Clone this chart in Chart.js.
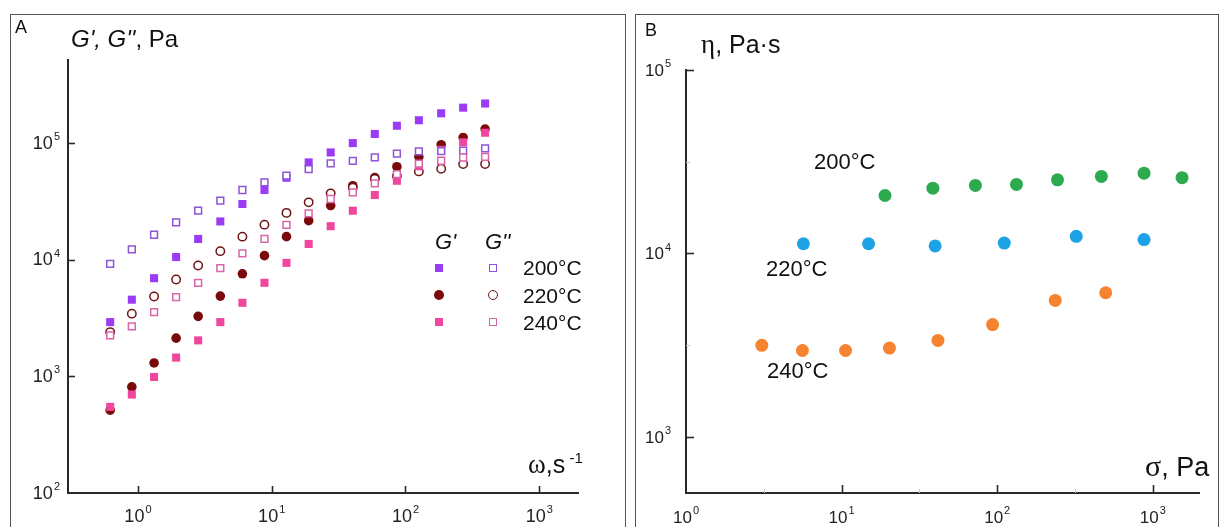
<!DOCTYPE html>
<html><head><meta charset="utf-8">
<script src="https://cdn.jsdelivr.net/npm/chart.js@4/dist/chart.umd.min.js"></script>
<style>
html,body{margin:0;padding:0;background:#fff;}
#page{position:relative;width:1220px;height:527px;overflow:hidden;font-family:"Liberation Sans",Arial,sans-serif;color:#111;}
.frame{position:absolute;border:1px solid #555;}
.t{position:absolute;line-height:1;white-space:nowrap;}
.serif{font-family:"Liberation Serif","DejaVu Serif",serif;}
.it{font-style:italic;}
canvas{position:absolute;top:0;}
.mk{position:absolute;box-sizing:border-box;}
</style></head>
<body>
<div id="page">
  <div class="frame" style="left:10px;top:14px;width:614px;height:600px;"></div>
  <div class="frame" style="left:635px;top:14px;width:582px;height:600px;"></div>
  <canvas id="cA" width="625" height="527" style="left:0px;"></canvas>
  <canvas id="cB" width="585" height="527" style="left:635px;"></canvas>

  <!-- Panel A texts -->
  <div class="t" style="left:15px;top:18px;font-size:18px;">A</div>
  <div class="t" style="left:71px;top:27px;font-size:24px;"><span class="it">G', G''</span>, Pa</div>
  <div class="t" style="left:528px;top:450px;font-size:25px;"><span class="serif" style="font-size:27px;">ω</span>,s<sup style="font-size:15px;vertical-align:10px;"> -1</sup></div>
  <div class="t it" style="left:435px;top:231px;font-size:22px;">G'</div>
  <div class="t it" style="left:485px;top:231px;font-size:22px;">G''</div>
  <div class="mk" style="left:435px;top:264px;width:8px;height:8px;background:#9b3cf4;"></div>
  <div class="mk" style="left:489px;top:264px;width:8px;height:8px;border:1.5px solid #8c55d8;background:#fff;"></div>
  <div class="mk" style="left:434px;top:290px;width:10px;height:10px;border-radius:50%;background:#7a0a0a;"></div>
  <div class="mk" style="left:488px;top:290px;width:10px;height:10px;border-radius:50%;border:1.5px solid #6e1414;background:#fff;"></div>
  <div class="mk" style="left:435px;top:318px;width:8px;height:8px;background:#f0469e;"></div>
  <div class="mk" style="left:489px;top:318px;width:8px;height:8px;border:1.5px solid #d964a8;background:#fff;"></div>
  <div class="t" style="left:523px;top:257px;font-size:21px;">200°C</div>
  <div class="t" style="left:523px;top:285px;font-size:21px;">220°C</div>
  <div class="t" style="left:523px;top:312px;font-size:21px;">240°C</div>

  <!-- Panel B texts -->
  <div class="t" style="left:645px;top:21px;font-size:18px;">B</div>
  <div class="t" style="left:701px;top:31px;font-size:25px;"><span class="serif" style="font-size:27px;">η</span>, Pa·s</div>
  <div class="t" style="left:814px;top:151px;font-size:22px;">200°C</div>
  <div class="t" style="left:766px;top:258px;font-size:22px;">220°C</div>
  <div class="t" style="left:767px;top:360px;font-size:22px;">240°C</div>
  <div class="t" style="left:1145px;top:451px;font-size:27px;"><span class="serif" style="font-size:30px;">σ</span>,&nbsp;Pa</div>
</div>
<script>
// ---------- Panel A data: angular frequency ω (s^-1) and moduli (Pa) ----------
const omega = [0.62, 0.90, 1.32, 1.93, 2.82, 4.13, 6.04, 8.83, 12.9, 18.9, 27.6, 40.4, 59.0, 86.3, 126, 185, 270, 394];
const Gp200  = [2910, 4530, 6920, 10500, 15000, 21200, 29900, 39400, 50200, 67900, 82700, 99400, 119000, 140000, 156000, 179000, 200000, 217000];
const Gpp200 = [9190, 12200, 16300, 20800, 26200, 31900, 39400, 45800, 52300, 59600, 66500, 70100, 74900, 80900, 84400, 85000, 85500, 89400];
const Gp220  = [512, 811, 1300, 2120, 3260, 4860, 7550, 10800, 15700, 21500, 29000, 42900, 50400, 62400, 75900, 96200, 111000, 131000];
const Gpp220 = [2390, 3440, 4830, 6750, 8890, 11800, 15700, 19900, 25100, 30900, 36900, 41200, 49000, 52000, 56900, 60000, 65800, 65800];
const Gp240  = [547, 697, 986, 1445, 2030, 2910, 4260, 6320, 9370, 13600, 19300, 26200, 35700, 47300, 63000, 87100, 101000, 122000];
const Gpp240 = [2240, 2680, 3540, 4760, 6320, 8430, 11300, 15000, 19800, 24900, 33000, 37600, 44900, 54000, 66200, 70200, 74800, 75900];

// ---------- Panel B data: shear stress σ (Pa) and viscosity η (Pa·s) ----------
const sigma200 = [19.0, 38.6, 72.4, 133, 244, 467, 878, 1540];
const eta200   = [20700, 22700, 23500, 23800, 25200, 26300, 27400, 25900];
const sigma220 = [5.68, 14.9, 39.9, 111, 322, 878];
const eta220   = [11300, 11300, 11000, 11400, 12400, 11900];
const sigma240 = [3.07, 5.60, 10.6, 20.3, 41.6, 93.4, 236, 498];
const eta240   = [3160, 2960, 2960, 3050, 3360, 4100, 5550, 6110];

// ---------- Tick exponents ----------
const xTickExpA = [0, 1, 2, 3];
const yTickExpA = [2, 3, 4, 5];
const xTickExpB = [0, 1, 2, 3];
const yTickExpB = [3, 4, 5];
const xMinorExpB = [0.5, 1.5, 2.5];
const yMinorExpB = [3.5, 4.5];

const pts = (xs, ys) => xs.map((x, i) => ({x: x, y: ys[i]}));

const axisDecor = {
  id: 'axisDecor',
  afterDraw(chart, args, o) {
    const ctx = chart.ctx, xs = chart.scales.x, ys = chart.scales.y, ca = chart.chartArea;
    ctx.save();
    ctx.strokeStyle = '#2a2a2a'; ctx.lineWidth = 1.6;
    o.xMajor.forEach(e => {
      const px = Math.round(xs.getPixelForValue(Math.pow(10, e))) + 0.5;
      if (px > ca.left + 2) { ctx.beginPath(); ctx.moveTo(px, ca.bottom); ctx.lineTo(px, ca.bottom - o.tickLen); ctx.stroke(); }
    });
    o.yMajor.forEach(e => {
      const py = Math.round(ys.getPixelForValue(Math.pow(10, e))) + 0.5;
      if (py < ca.bottom - 2) { ctx.beginPath(); ctx.moveTo(ca.left, py); ctx.lineTo(ca.left + o.tickLen, py); ctx.stroke(); }
    });
    ctx.strokeStyle = '#c4c4c4'; ctx.lineWidth = 1;
    (o.xMinor || []).forEach(e => {
      const px = Math.round(xs.getPixelForValue(Math.pow(10, e))) + 0.5;
      ctx.beginPath(); ctx.moveTo(px, ca.bottom); ctx.lineTo(px, ca.bottom - 4); ctx.stroke();
    });
    (o.yMinor || []).forEach(e => {
      const py = Math.round(ys.getPixelForValue(Math.pow(10, e))) + 0.5;
      ctx.beginPath(); ctx.moveTo(ca.left, py); ctx.lineTo(ca.left + 4, py); ctx.stroke();
    });
    ctx.fillStyle = '#222'; ctx.textBaseline = 'middle'; ctx.textAlign = 'left';
    const font = o.labelSize + 'px "Liberation Sans", Arial, sans-serif';
    const sfont = o.supSize + 'px "Liberation Sans", Arial, sans-serif';
    const draw = (exp, x, y, align) => {
      ctx.font = font; const wb = ctx.measureText('10').width;
      ctx.font = sfont; const ws = ctx.measureText(String(exp)).width;
      const x0 = align === 'right' ? x - wb - ws - 1 : x - (wb + ws + 1) / 2;
      ctx.font = font; ctx.fillText('10', x0, y);
      ctx.font = sfont; ctx.fillText(String(exp), x0 + wb + 1, y - o.supShift);
    };
    o.xMajor.forEach(e => draw(e, xs.getPixelForValue(Math.pow(10, e)), ca.bottom + o.xLabelDy, 'center'));
    o.yMajor.forEach(e => draw(e, ca.left - o.yLabelGap, ys.getPixelForValue(Math.pow(10, e)) + 1, 'right'));
    ctx.restore();
  }
};

function logAxis(min, max, fitW, fitH) {
  return {
    type: 'logarithmic', min: min, max: max,
    afterFit: s => { if (fitW !== null) s.width = fitW; if (fitH !== null) s.height = fitH; },
    ticks: {display: false},
    grid: {display: true, drawOnChartArea: false, drawTicks: false},
    border: {display: true, color: '#2a2a2a', width: 2}
  };
}

function ds(label, data, style, r, fill, stroke, bw, order) {
  return {label, data, pointStyle: style, pointRadius: r, pointHoverRadius: r,
    backgroundColor: fill, borderColor: stroke, borderWidth: bw, showLine: false, order};
}

new Chart(document.getElementById('cA'), {
  type: 'scatter',
  data: {datasets: [
    ds("G'' 240°C", pts(omega, Gpp240), 'rect', 4.8, '#ffffff', '#d964a8', 1.5, 1),
    ds("G'' 200°C", pts(omega, Gpp200), 'rect', 4.8, '#ffffff', '#8c55d8', 1.5, 2),
    ds("G' 240°C",  pts(omega, Gp240),  'rect', 5.7, '#f0469e', '#f0469e', 0, 3),
    ds("G'' 220°C", pts(omega, Gpp220), 'circle', 4.2, '#ffffff', '#6e1414', 1.5, 4),
    ds("G' 220°C",  pts(omega, Gp220),  'circle', 4.8, '#7a0a0a', '#7a0a0a', 0, 5),
    ds("G' 200°C",  pts(omega, Gp200),  'rect', 5.7, '#9b3cf4', '#9b3cf4', 0, 6)
  ]},
  options: {
    responsive: false, animation: false, devicePixelRatio: 1,
    layout: {padding: {left: 0, right: 47, top: 60, bottom: 0}},
    plugins: {legend: {display: false}, tooltip: {enabled: false},
      axisDecor: {xMajor: xTickExpA, yMajor: yTickExpA, tickLen: 7, labelSize: 18, supSize: 11, supShift: 7, xLabelDy: 24, yLabelGap: 8}},
    scales: {
      x: logAxis(0.30, 1950, null, 34),
      y: logAxis(100, 512000, 68, null)
    }
  },
  plugins: [axisDecor]
});

new Chart(document.getElementById('cB'), {
  type: 'scatter',
  data: {datasets: [
    ds('200°C', pts(sigma200, eta200), 'circle', 6.5, '#2eaa4e', '#2eaa4e', 0, 1),
    ds('220°C', pts(sigma220, eta220), 'circle', 6.5, '#1ea2e6', '#1ea2e6', 0, 2),
    ds('240°C', pts(sigma240, eta240), 'circle', 6.5, '#f5832f', '#f5832f', 0, 3)
  ]},
  options: {
    responsive: false, animation: false, devicePixelRatio: 1,
    layout: {padding: {left: 0, right: 21, top: 70, bottom: 0}},
    plugins: {legend: {display: false}, tooltip: {enabled: false},
      axisDecor: {xMajor: xTickExpB, yMajor: yTickExpB, xMinor: xMinorExpB, yMinor: yMinorExpB, tickLen: 8, labelSize: 17, supSize: 11, supShift: 7, xLabelDy: 25, yLabelGap: 15}},
    scales: {
      x: logAxis(1, 1980, null, 34),
      y: logAxis(495, 100000, 51, null)
    }
  },
  plugins: [axisDecor]
});
</script>
</body></html>
